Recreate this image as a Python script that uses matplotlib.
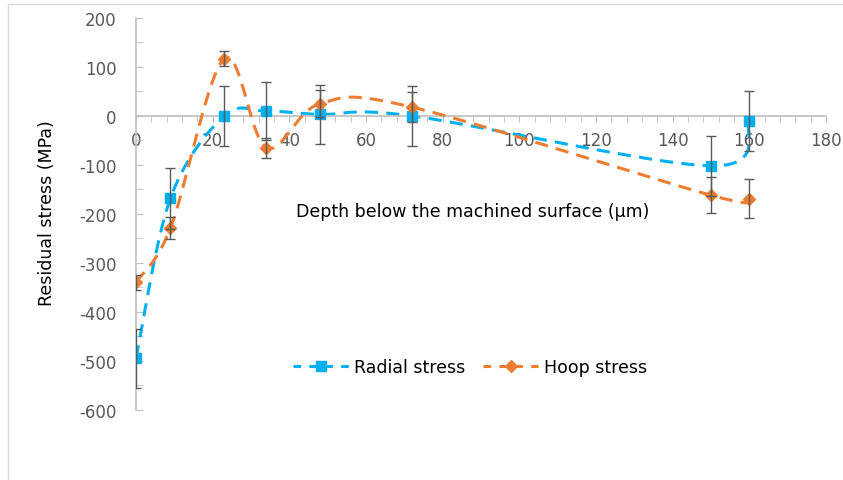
import numpy as np
import matplotlib.pyplot as plt
from matplotlib.patches import Rectangle
from matplotlib.ticker import MultipleLocator

plt.rcParams["axes.unicode_minus"] = False

# Residual stress profiles
depth = [0, 9, 23, 34, 48, 72, 150, 160]
radial = [-495, -168, 0, 10, 3, 0, -102, -10]
radial_err = [60, 62, 61, 60, 61, 61, 61, 61]
hoop = [-340, -229, 117, -65, 25, 18, -162, -169]
hoop_err = [15, 23, 16, 20, 28, 30, 37, 40]


def smooth(x, y, n=40):
    # Excel-like smoothed line: Bezier segments with Catmull-Rom control points
    p = np.column_stack([x, y]).astype(float)
    pts = [p[0]]
    for i in range(len(p) - 1):
        p0 = p[i - 1] if i > 0 else p[i]
        p1, p2 = p[i], p[i + 1]
        p3 = p[i + 2] if i + 2 < len(p) else p[i + 1]
        c1 = p1 + (p2 - p0) / 6
        c2 = p2 - (p3 - p1) / 6
        t = np.linspace(0, 1, n)[1:, None]
        seg = ((1 - t) ** 3 * p1 + 3 * (1 - t) ** 2 * t * c1
               + 3 * (1 - t) * t ** 2 * c2 + t ** 3 * p2)
        pts.extend(seg)
    pts = np.array(pts)
    return pts[:, 0], pts[:, 1]


blue = "#00B0F0"
orange = "#ED7D31"
grey = "#BFBFBF"
txt = "#595959"
dash = (4.3, 2.7)

fig = plt.figure(figsize=(8.43, 4.81), dpi=100)
ax = fig.add_axes([0.1613, 0.1462, 0.8185, 0.8143])

# outer chart border
fig.patches.append(Rectangle((8 / 843, -0.1), 1.2, 1.1 - 5 / 481,
                             transform=fig.transFigure, fill=False,
                             edgecolor="#D9D9D9", linewidth=1))

sx, sy = smooth(depth, radial)
ax.plot(sx, sy, color=blue, lw=2.2, dashes=dash, zorder=2)
hx, hy = smooth(depth, hoop)
ax.plot(hx, hy, color=orange, lw=2.2, dashes=dash, zorder=3)

ax.plot(depth, radial, ls="none", marker="s", ms=7.5, color=blue, zorder=4)
ax.plot(depth, hoop, ls="none", marker="D", ms=6.5, color=orange, zorder=5)

ax.errorbar(depth, radial, yerr=radial_err, fmt="none", ecolor=txt,
            elinewidth=1, capsize=3.5, capthick=1, zorder=6)
ax.errorbar(depth, hoop, yerr=hoop_err, fmt="none", ecolor=txt,
            elinewidth=1, capsize=3.5, capthick=1, zorder=6)

# legend handles (line + marker, Excel style)
h1, = ax.plot([], [], color=blue, lw=2.2, dashes=(2.5, 2.7), marker="s", ms=7.5)
h2, = ax.plot([], [], color=orange, lw=2.2, dashes=(2.5, 2.7), marker="D", ms=6.5)
ax.legend([h1, h2], ["Radial stress", "Hoop stress"], loc="center",
          bbox_to_anchor=(470 / 843, 1 - 368 / 481),
          bbox_transform=fig.transFigure, ncol=2, frameon=False,
          fontsize=12.5, handlelength=3.2, columnspacing=1.0, handletextpad=0.3)

ax.set_xlim(0, 180)
ax.set_ylim(-600, 200)
ax.xaxis.set_major_locator(MultipleLocator(20))
ax.xaxis.set_minor_locator(MultipleLocator(4))
ax.yaxis.set_major_locator(MultipleLocator(100))
ax.yaxis.set_minor_locator(MultipleLocator(50))

for s in ["top", "right"]:
    ax.spines[s].set_visible(False)
ax.spines["bottom"].set_position(("data", 0))
ax.spines["bottom"].set_color(grey)
ax.spines["left"].set_color(grey)
ax.spines["bottom"].set_linewidth(1.2)
ax.spines["left"].set_linewidth(1.2)

ax.tick_params(axis="x", which="both", direction="out", color=grey,
               labelcolor=txt, labelsize=12)
ax.tick_params(axis="x", which="major", length=4, pad=7)
ax.tick_params(axis="x", which="minor", length=4)
ax.tick_params(axis="y", which="both", direction="in", color=grey,
               labelcolor=txt, labelsize=12)
ax.tick_params(axis="y", which="major", length=5, pad=14)
ax.tick_params(axis="y", which="minor", length=5)

ax.text(473 / 843, 1 - 212 / 481, "Depth below the machined surface (µm)",
        transform=fig.transFigure, ha="center", va="center", fontsize=12.5)
fig.text(47 / 843, 1 - 213 / 481, "Residual stress (MPa)", rotation=90,
         ha="center", va="center", fontsize=12.5)

fig.savefig("out.png", dpi=100)
plt.close()
